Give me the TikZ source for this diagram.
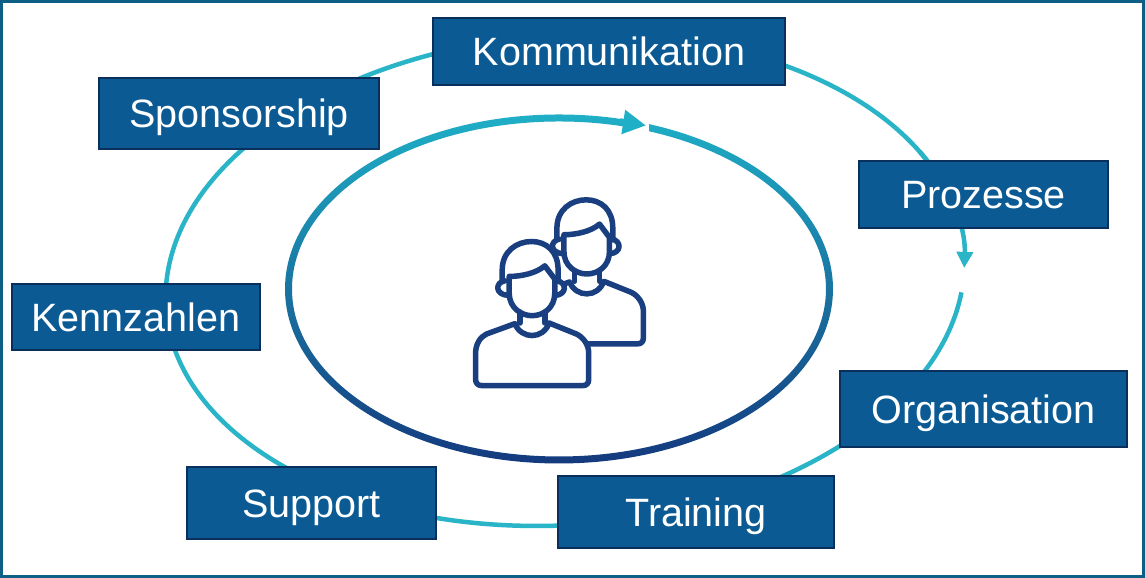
\documentclass[tikz,border=0pt]{standalone}
\usepackage{fontspec}
\setmainfont{Liberation Sans}
\usepackage{xcolor}
\usetikzlibrary{arrows.meta,positioning,calc}
\definecolor{boxblue}{HTML}{0B5A94}
\definecolor{boxedge}{HTML}{0A2F5C}
\definecolor{frameblue}{HTML}{0E5F85}
\definecolor{ringteal}{HTML}{2AB4C8}
\definecolor{ringtop}{HTML}{1FAFC6}
\definecolor{ringmid}{HTML}{1178A0}
\definecolor{ringlow}{HTML}{143A7E}
\definecolor{iconblue}{HTML}{1A3F80}
\tikzset{
  topic/.style={draw=boxedge,line width=0.3pt,fill=boxblue,text=white,inner sep=0pt,text height=0.29cm,text depth=0cm,font=\fontsize{11.25}{13}\selectfont},
  outerring/.style={ringteal,line width=0.045cm},
  personicon/.pic={
    \begin{scope}[x=0.00333cm,y=-0.00333cm,iconblue,line width=0.055cm,line join=round,line cap=round]
      \fill[white] (205,390) rectangle (290,470);
      \draw[fill=white] (195,432) -- (110,463) .. controls (90,472) and (77,495) .. (77,520) -- (77,600) .. controls (77,612) and (85,618) .. (95,618) -- (400,618) .. controls (410,618) and (417,612) .. (417,600) -- (417,520) .. controls (417,495) and (400,472) .. (380,463) -- (298,430) .. controls (280,480) and (215,480) .. (195,432);
      \fill[white] (157,305) -- (157,270) .. controls (157,215) and (200,185) .. (245,185) .. controls (290,185) and (325,215) .. (325,270) -- (325,305) .. controls (345,310) and (345,340) .. (318,345) .. controls (310,380) and (280,408) .. (247,408) .. controls (215,408) and (185,380) .. (172,345) .. controls (145,340) and (145,310) .. (157,305) -- cycle;
      \draw (210,397) -- (210,430);
      \draw (285,397) -- (285,430);
      \draw (178,290) -- (178,340) .. controls (178,385) and (215,408) .. (247,408) .. controls (280,408) and (315,385) .. (315,340) -- (315,298) -- (285,258) .. controls (260,280) and (215,290) .. (178,290);
      \draw (157,305) -- (157,270) .. controls (157,215) and (200,185) .. (245,185) .. controls (290,185) and (325,215) .. (325,270) -- (325,305);
      \draw (165,303) .. controls (135,308) and (135,345) .. (175,347);
      \draw (322,303) .. controls (352,308) and (352,345) .. (316,347);
    \end{scope}
  }
}
\begin{document}
\begin{tikzpicture}
        \useasboundingbox (0,0) rectangle (11.45,5.78);
        \draw[frameblue,line width=0.03cm,fill=white] (0.015,0.015) rectangle (11.435,5.765);

        \coordinate (ringcentre) at (5.65,2.98);
        \begin{scope}[rotate around={4:(ringcentre)}]
          \draw[outerring] (ringcentre) ++(-9.4:4 and 2.45) arc[start angle=-9.4,end angle=-338,x radius=4,y radius=2.45];
          \draw[outerring,-{Triangle[length=0.16cm,width=0.16cm]}] (ringcentre) ++(25:4 and 2.45) arc[start angle=25,end angle=-3.7,x radius=4,y radius=2.45];
        \end{scope}

        \coordinate (eyecentre) at (5.59,2.89);
        \shade[even odd rule,top color=ringtop,middle color=ringmid,bottom color=ringlow]
          (eyecentre) ellipse [x radius=2.74,y radius=1.745]
          (eyecentre) ellipse [x radius=2.67,y radius=1.675];
        \fill[white] (6.26,4.4) rectangle (6.49,4.72);
        \coordinate (eyetail) at (6.2,4.565);
        \coordinate (eyetip) at (6.46,4.525);
        \draw[ringtop,line width=0.065cm,-{Triangle[length=0.23cm,width=0.23cm]}] (eyetail) -- (eyetip);

        \pic at (5.047,4.397) {personicon};
        \pic at (4.5,3.98) {personicon};

        \node [topic,minimum width=3.52cm,minimum height=0.67cm] (kommunikation) at (6.09,5.265) {Kommunikation};
        \node [topic,minimum width=2.80cm,minimum height=0.71cm] (sponsorship) at (2.39,4.645) {Sponsorship};
        \node [topic,minimum width=2.49cm,minimum height=0.67cm] (prozesse) at (9.835,3.835) {Prozesse};
        \node [topic,minimum width=2.87cm,minimum height=0.76cm] (organisation) at (9.835,1.69) {Organisation};
        \node [topic,minimum width=2.76cm,minimum height=0.72cm] (training) at (6.96,0.66) {Training};
        \node [topic,minimum width=2.49cm,minimum height=0.72cm] (support) at (3.115,0.75) {Support};
        \node [topic,minimum width=2.48cm,minimum height=0.66cm] (kennzahlen) at (1.36,2.61) {Kennzahlen};
\end{tikzpicture}
\end{document}
